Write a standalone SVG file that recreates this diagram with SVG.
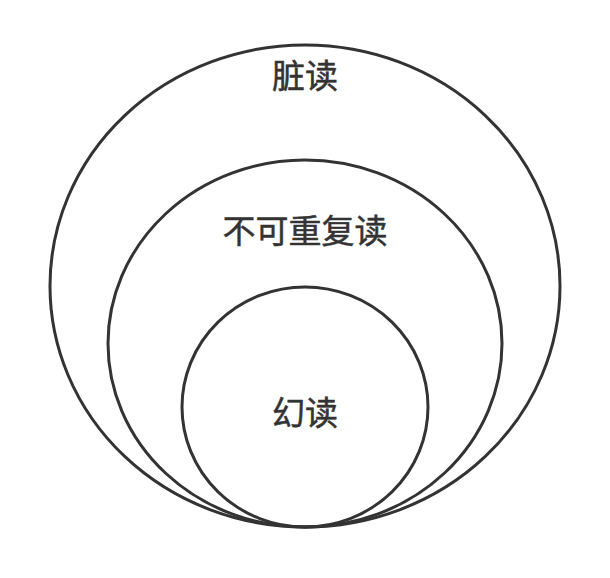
<svg xmlns="http://www.w3.org/2000/svg" width="610" height="578" viewBox="0 0 610 578">
<style>
.c{fill:none;stroke:#333;stroke-width:3}
.t{font-family:"Noto Sans CJK SC","Noto Sans",sans-serif;font-size:33px;fill:#333;stroke:#333;stroke-width:0.5;text-anchor:middle;dominant-baseline:central}
</style>
<rect width="610" height="578" fill="#fff"/>
<g id="outer"><ellipse class="c" cx="305" cy="286" rx="255" ry="241"/><text class="t" x="305" y="74">脏读</text></g>
<g id="middle"><ellipse class="c" cx="305" cy="343.5" rx="197" ry="183.5"/><text class="t" x="305" y="229">不可重复读</text></g>
<g id="inner"><ellipse class="c" cx="305" cy="407" rx="123" ry="120"/><text class="t" x="305" y="411">幻读</text></g>
<g id="connectors"/>
</svg>
